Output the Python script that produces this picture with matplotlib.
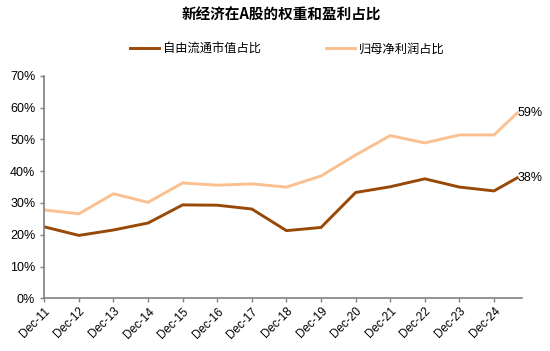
import matplotlib
matplotlib.use("Agg")
import matplotlib.pyplot as plt

plt.rcParams['font.family'] = ['Liberation Sans', 'Noto Sans CJK SC', 'DejaVu Sans']

tick_labels = ["Dec-11", "Dec-12", "Dec-13", "Dec-14", "Dec-15", "Dec-16", "Dec-17",
               "Dec-18", "Dec-19", "Dec-20", "Dec-21", "Dec-22", "Dec-23", "Dec-24"]
# x positions in years since Dec-11; last point ~Aug-25
x_pos = [0, 1, 2, 3, 4, 5, 6, 7, 8, 9, 10, 11, 12, 13, 13.67]
free_float = [22.5, 19.8, 21.5, 23.7, 29.4, 29.3, 28.1, 21.3, 22.3, 33.3, 35.1, 37.6, 35.0, 33.8, 37.9]
profit = [27.8, 26.6, 32.9, 30.2, 36.3, 35.6, 36.0, 35.0, 38.5, 45.1, 51.2, 48.9, 51.4, 51.4, 58.3]
names = ["自由流通市值占比", "归母净利润占比"]
end_labels = ["38%", "59%"]
title = "新经济在A股的权重和盈利占比"

dark = "#984807"
light = "#FAC090"

fig = plt.figure(figsize=(5.5, 3.51), dpi=100)
ax = fig.add_axes([0.0805, 0.150, 0.868, 0.634])

l1, = ax.plot(x_pos, free_float, color=dark, lw=2.1, solid_joinstyle='miter')
l2, = ax.plot(x_pos, profit, color=light, lw=2.1, solid_joinstyle='miter')

ax.text(x_pos[-1], free_float[-1], end_labels[0], ha='left', va='center', fontsize=9, color='black')
ax.text(x_pos[-1], profit[-1], end_labels[1], ha='left', va='center', fontsize=9, color='black')

ax.set_xlim(0, 13.8)
ax.set_ylim(0, 70)
ax.set_yticks(range(0, 71, 10))
ax.set_yticklabels([f"{v}%" for v in range(0, 71, 10)], fontsize=9)
ax.set_xticks(range(len(tick_labels)))
ax.set_xticklabels(tick_labels, rotation=45, ha='right', rotation_mode='anchor', fontsize=8.5)

for s in ['top', 'right']:
    ax.spines[s].set_visible(False)
for s in ['left', 'bottom']:
    ax.spines[s].set_color('#808080')
    ax.spines[s].set_linewidth(1.2)
ax.tick_params(axis='both', colors='#808080', length=3, width=1, labelcolor='black')
ax.tick_params(axis='x', pad=2)

fig.text(0.511, 0.958, title, ha='center', va='center', fontsize=10.5, fontweight='bold',
         family=['Noto Sans CJK SC', 'DejaVu Sans'])

fig.legend([l1, l2], names, loc='center', bbox_to_anchor=(0.522, 0.86), ncol=2, frameon=False,
           handlelength=2.4, columnspacing=5.3, handletextpad=0.3,
           prop={'family': ['Noto Sans CJK SC', 'DejaVu Sans'], 'size': 8.8})

fig.savefig("out.png", dpi=100)
